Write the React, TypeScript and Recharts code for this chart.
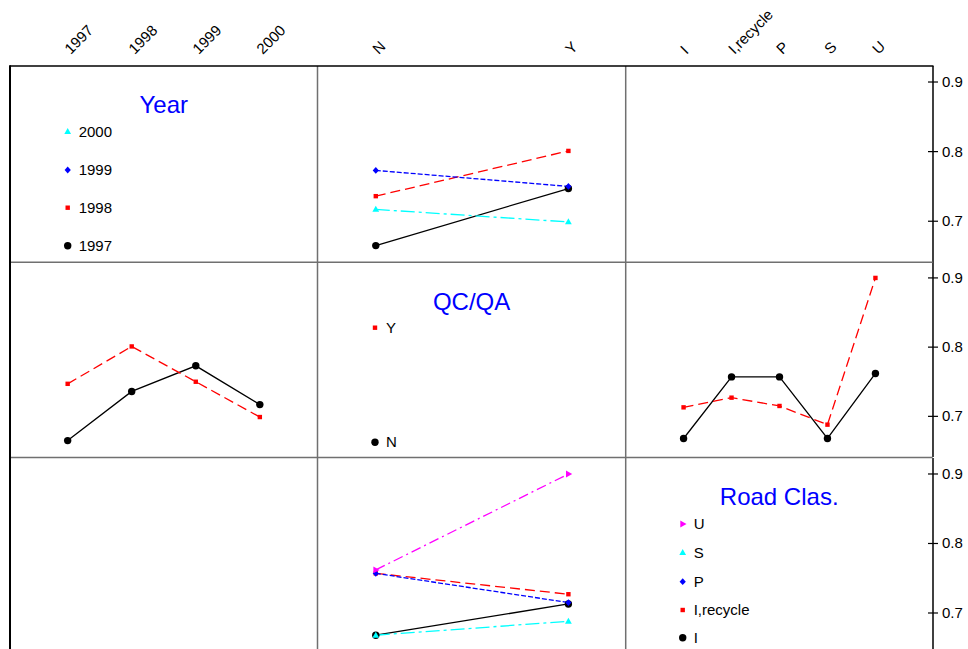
import React from "react";
import { LineChart, Line, XAxis, YAxis } from "recharts";

const years = ["1997", "1998", "1999", "2000"];
const qcqa = ["N", "Y"];
const roadClasses = ["I", "I,recycle", "P", "S", "U"];

// means by year, one list per QC/QA level
const yearMeansN = [0.665, 0.736, 0.773, 0.717];
const yearMeansY = [0.747, 0.801, 0.75, 0.699];

// means by road class, one list per QC/QA level
const roadMeansN = [0.668, 0.757, 0.757, 0.668, 0.762];
const roadMeansY = [0.713, 0.727, 0.715, 0.688, 0.9];

const yTicks = [0.7, 0.8, 0.9];

const FONT = "'Liberation Sans', Arial, sans-serif";

type Shape = "circle" | "square" | "diamond" | "triangle" | "rtriangle";
type Style = { color: string; dash?: string; shape: Shape };

const yearStyle: Record<string, Style> = {
  "1997": { color: "#000000", shape: "circle" },
  "1998": { color: "#ff0000", dash: "10 5", shape: "square" },
  "1999": { color: "#0000ff", dash: "5 2", shape: "diamond" },
  "2000": { color: "#00ffff", dash: "14 4 3 4", shape: "triangle" },
};

const qcStyle: Record<string, Style> = {
  N: { color: "#000000", shape: "circle" },
  Y: { color: "#ff0000", dash: "10 5", shape: "square" },
};

const roadStyle: Record<string, Style> = {
  I: { color: "#000000", shape: "circle" },
  "I,recycle": { color: "#ff0000", dash: "10 5", shape: "square" },
  P: { color: "#0000ff", dash: "5 2", shape: "diamond" },
  S: { color: "#00ffff", dash: "14 4 3 4", shape: "triangle" },
  U: { color: "#ff00ff", dash: "10 4 2 4", shape: "rtriangle" },
};

// grid geometry
const colLeft = [10, 317.5, 625.7];
const colWidth = [307.5, 308.2, 307];
const rowTop = [66, 262.3, 457.5];
const rowHeight = [196.3, 195.2, 196];
const xDomains: [number, number][] = [
  [-0.9, 3.9],
  [-0.3, 1.3],
  [-1.2, 5.2],
];
const yDomain: [number, number] = [0.641, 0.923];
const colLabels = [years, qcqa, roadClasses];

type Series = { name: string; style: Style; points: { x: number; v: number }[] };

const byQcYear = [yearMeansN, yearMeansY];
const byQcRoad = [roadMeansN, roadMeansY];

const yearOverQc: Series[] = years.map((yr, i) => ({
  name: yr,
  style: yearStyle[yr],
  points: byQcYear.map((arr, j) => ({ x: j, v: arr[i] })),
}));

const qcOverYear: Series[] = qcqa.map((q, j) => ({
  name: q,
  style: qcStyle[q],
  points: years.map((_, i) => ({ x: i, v: byQcYear[j][i] })),
}));

const qcOverRoad: Series[] = qcqa.map((q, j) => ({
  name: q,
  style: qcStyle[q],
  points: roadClasses.map((_, k) => ({ x: k, v: byQcRoad[j][k] })),
}));

const roadOverQc: Series[] = roadClasses.map((r, k) => ({
  name: r,
  style: roadStyle[r],
  points: byQcRoad.map((arr, j) => ({ x: j, v: arr[k] })),
}));

const Marker = ({ cx, cy, style }: { cx: number; cy: number; style: Style }) => {
  const c = style.color;
  switch (style.shape) {
    case "circle":
      return <circle cx={cx} cy={cy} r={3.7} fill={c} />;
    case "square":
      return <rect x={cx - 2.2} y={cy - 2.2} width={4.4} height={4.4} fill={c} />;
    case "diamond":
      return (
        <polygon
          points={`${cx},${cy - 3.4} ${cx + 3.1},${cy} ${cx},${cy + 3.4} ${cx - 3.1},${cy}`}
          fill={c}
        />
      );
    case "triangle":
      return (
        <polygon
          points={`${cx},${cy - 3.6} ${cx + 3.4},${cy + 2.4} ${cx - 3.4},${cy + 2.4}`}
          fill={c}
        />
      );
    default:
      return (
        <polygon
          points={`${cx + 3.8},${cy} ${cx - 2.4},${cy - 3.4} ${cx - 2.4},${cy + 3.4}`}
          fill={c}
        />
      );
  }
};

const makeTopTick = (labels: string[]) => (props: any) => {
  const { x, payload } = props;
  return (
    <text
      transform={`translate(${x + 3},55) rotate(-45)`}
      fontSize={15}
      fontFamily={FONT}
      fill="#000"
    >
      {labels[payload.value]}
    </text>
  );
};

const RightTick = (props: any) => {
  const { x, y, payload } = props;
  return (
    <g>
      <line x1={x - 5} x2={x + 5} y1={y} y2={y} stroke="#000" strokeWidth={1.2} />
      <text x={x + 9} y={y + 5} fontSize={15} fontFamily={FONT} fill="#000">
        {Number(payload.value).toFixed(1)}
      </text>
    </g>
  );
};

type PanelProps = {
  row: number;
  col: number;
  series?: Series[];
  showTop?: boolean;
  showRight?: boolean;
};

const Panel = ({ row, col, series = [], showTop, showRight }: PanelProps) => {
  const topPad = showTop ? rowTop[row] : 0;
  const rightPad = showRight ? 40 : 0;
  const labels = colLabels[col];
  return (
    <div
      style={{
        position: "absolute",
        left: colLeft[col],
        top: showTop ? 0 : rowTop[row],
      }}
    >
      <LineChart
        width={colWidth[col] + rightPad}
        height={rowHeight[row] + topPad}
        margin={{ top: 0, right: 0, bottom: 0, left: 0 }}
      >
        <XAxis
          type="number"
          dataKey="x"
          domain={xDomains[col]}
          allowDataOverflow
          orientation="top"
          height={topPad}
          hide={!showTop}
          ticks={labels.map((_, i) => i)}
          interval={0}
          axisLine={false}
          tickLine={false}
          tick={makeTopTick(labels)}
        />
        <YAxis
          type="number"
          dataKey="v"
          domain={yDomain}
          allowDataOverflow
          orientation="right"
          width={rightPad}
          hide={!showRight}
          ticks={yTicks}
          interval={0}
          tickSize={0}
          tickMargin={0}
          tickLine={false}
          axisLine={{ stroke: "#000", strokeWidth: 1.5 }}
          tick={RightTick}
        />
        {series.map((s) => (
          <Line
            key={s.name}
            data={s.points}
            dataKey="v"
            stroke={s.style.color}
            strokeWidth={1.3}
            strokeDasharray={s.style.dash}
            isAnimationActive={false}
            activeDot={false}
            dot={(p: any) => (
              <Marker key={`${s.name}-${p.index}`} cx={p.cx} cy={p.cy} style={s.style} />
            )}
          />
        ))}
      </LineChart>
    </div>
  );
};

const LegendBlock = ({
  col,
  title,
  titleY,
  items,
  styles,
  markerX,
  itemY,
}: {
  col: number;
  title: string;
  titleY: number;
  items: string[];
  styles: Record<string, Style>;
  markerX: number;
  itemY: number[];
}) => {
  const cx = colLeft[col] + colWidth[col] / 2;
  return (
    <g>
      <text
        x={cx}
        y={titleY}
        textAnchor="middle"
        fontSize={24}
        fontFamily={FONT}
        fill="#0000ff"
      >
        {title}
      </text>
      {items.map((it, i) => (
        <g key={it}>
          <Marker cx={markerX} cy={itemY[i]} style={styles[it]} />
          <text
            x={markerX + 11}
            y={itemY[i] + 5}
            fontSize={15}
            fontFamily={FONT}
            fill="#000"
          >
            {it}
          </text>
        </g>
      ))}
    </g>
  );
};

const GRID = "#707070";

export default function App() {
  return (
    <div
      style={{
        position: "absolute",
        left: 0,
        top: 0,
        width: 968,
        height: 649,
        overflow: "hidden",
        background: "#fff",
      }}
    >
      <Panel row={0} col={0} showTop />
      <Panel row={0} col={1} showTop series={yearOverQc} />
      <Panel row={0} col={2} showTop showRight />
      <Panel row={1} col={0} series={qcOverYear} />
      <Panel row={1} col={2} showRight series={qcOverRoad} />
      <Panel row={2} col={1} series={roadOverQc} />
      <Panel row={2} col={2} showRight />
      <svg
        width={968}
        height={649}
        style={{ position: "absolute", left: 0, top: 0, pointerEvents: "none" }}
      >
        <line x1={317.5} x2={317.5} y1={66} y2={649} stroke={GRID} strokeWidth={1.5} />
        <line x1={625.7} x2={625.7} y1={66} y2={649} stroke={GRID} strokeWidth={1.5} />
        <line x1={10} x2={932.7} y1={262.3} y2={262.3} stroke={GRID} strokeWidth={1.5} />
        <line x1={10} x2={932.7} y1={457.5} y2={457.5} stroke={GRID} strokeWidth={1.5} />
        <line x1={10} x2={933.5} y1={66} y2={66} stroke="#000" strokeWidth={1.5} />
        <line x1={10} x2={10} y1={65.3} y2={649} stroke="#000" strokeWidth={2} />
        <LegendBlock
          col={0}
          title="Year"
          titleY={113}
          items={["2000", "1999", "1998", "1997"]}
          styles={yearStyle}
          markerX={67.7}
          itemY={[131.7, 170, 207.7, 245.7]}
        />
        <LegendBlock
          col={1}
          title="QC/QA"
          titleY={310}
          items={["Y", "N"]}
          styles={qcStyle}
          markerX={375}
          itemY={[327.7, 442.3]}
        />
        <LegendBlock
          col={2}
          title="Road Clas."
          titleY={505}
          items={["U", "S", "P", "I,recycle", "I"]}
          styles={roadStyle}
          markerX={682.7}
          itemY={[524, 552.7, 581.7, 610, 637.7]}
        />
      </svg>
    </div>
  );
}
